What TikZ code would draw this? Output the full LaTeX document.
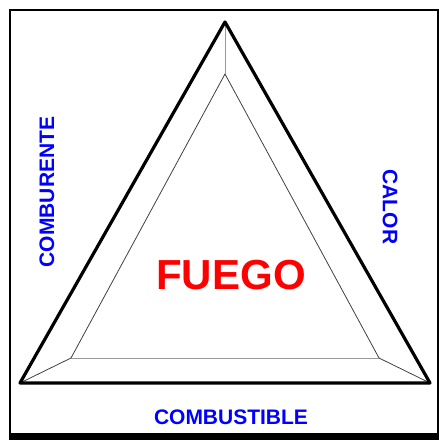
\documentclass[tikz,border=0pt]{standalone}
\usepackage{fontspec}
\setmainfont{Liberation Sans}
\usepackage{xcolor}
\usepackage{tikz}
\usetikzlibrary{positioning}

\begin{document}
\begin{tikzpicture}[x=1pt,y=-1pt,
 lbl/.style={text=blue,font=\bfseries\fontsize{21}{21}\selectfont,inner sep=0pt},
 edge/.style={line width=3.2pt,line join=round},
 bevel/.style={line width=0.8pt,black!75},
 soft/.style={line width=1pt,black!40}]
\useasboundingbox (0,0) rectangle (439,440);
% frame
\draw[line width=2pt] (10,433) |- (438,10) -- (438,433);
\fill (9,433) rectangle (439,440);
% triangle corners
\coordinate (top) at (225,22);
\coordinate (bl) at (20,383);
\coordinate (br) at (430,383);
\coordinate (itop) at (225,74);
\coordinate (ibl) at (71,358);
\coordinate (ibr) at (379,358);
\draw[bevel] (ibl)--(itop)--(ibr);
\draw[soft] (ibl)--(ibr);
\draw[soft] (top)--(itop);
\draw[bevel] (bl)--(ibl);\draw[bevel] (br)--(ibr);
\draw[edge] (top)--(bl)--(br)--cycle;
% labels
\node[lbl,rotate=90] (oxi) at (47,192) {COMBURENTE};
\node[lbl,rotate=-90] (heat) at (390,207) {CALOR};
\node[lbl] (fuel) at (231,417) {COMBUSTIBLE};
\node[text=red,font=\bfseries\fontsize{42}{42}\selectfont] (fire) at (231,275) {FUEGO};
\end{tikzpicture}
\end{document}
